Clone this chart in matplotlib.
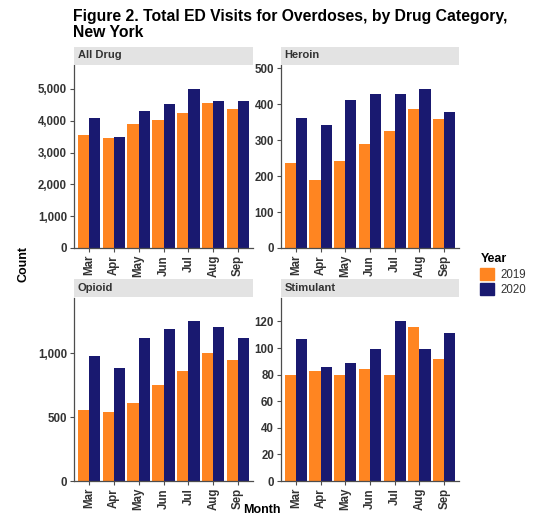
import matplotlib
matplotlib.use("Agg")
from matplotlib import pyplot as plt
from matplotlib.patches import Patch, Rectangle
from matplotlib.ticker import FuncFormatter
import numpy as np

plt.rcParams['font.family'] = ['Liberation Sans', 'DejaVu Sans']

months = ["Mar", "Apr", "May", "Jun", "Jul", "Aug", "Sep"]
years = ["2019", "2020"]

all_drug_2019 = [3560, 3470, 3910, 4030, 4250, 4560, 4370]
all_drug_2020 = [4070, 3480, 4320, 4540, 5000, 4620, 4630]
heroin_2019 = [236, 188, 243, 290, 327, 387, 358]
heroin_2020 = [361, 343, 413, 430, 428, 443, 378]
opioid_2019 = [558, 543, 610, 748, 860, 1000, 948]
opioid_2020 = [977, 886, 1117, 1184, 1247, 1200, 1117]
stimulant_2019 = [80, 83, 80, 84, 80, 116, 92]
stimulant_2020 = [107, 86, 89, 99, 120, 99, 111]

panels = [
    ("All Drug", all_drug_2019, all_drug_2020, [0, 1000, 2000, 3000, 4000, 5000]),
    ("Heroin", heroin_2019, heroin_2020, [0, 100, 200, 300, 400, 500]),
    ("Opioid", opioid_2019, opioid_2020, [0, 500, 1000]),
    ("Stimulant", stimulant_2019, stimulant_2020, [0, 20, 40, 60, 80, 100, 120]),
]

c2019 = "#FF8521"
c2020 = "#191970"
text_col = "#333333"
axis_col = "#4d4d4d"

W, H = 535, 518
fig = plt.figure(figsize=(W / 100, H / 100), dpi=100)


def px_rect(x0, y0, x1, y1):
    # pixel box (top-left origin) -> figure fraction rect
    return [x0 / W, 1 - y1 / H, (x1 - x0) / W, (y1 - y0) / H]


boxes = [
    (74, 65, 253, 248, 46.5),
    (281, 65, 459, 248, 46.5),
    (74, 297.5, 253, 481, 279),
    (281, 297.5, 459, 481, 279),
]

x = np.arange(len(months))
bw = 0.45

for (name, v19, v20, ticks), (x0, y0, x1, y1, sy) in zip(panels, boxes):
    ax = fig.add_axes(px_rect(x0, y0, x1, y1))
    ax.bar(x - bw / 2, v19, bw, color=c2019, linewidth=0)
    ax.bar(x + bw / 2, v20, bw, color=c2020, linewidth=0)
    top = max(max(v19), max(v20)) * 1.15
    ax.set_ylim(0, top)
    ax.set_xlim(-0.6, len(months) - 0.4)
    ax.set_yticks(ticks)
    ax.yaxis.set_major_formatter(FuncFormatter(lambda v, p: f"{int(v):,}"))
    ax.set_xticks(x)
    ax.set_xticklabels(months, rotation=90, ha="center", va="top")
    for lab in ax.get_xticklabels() + ax.get_yticklabels():
        lab.set_fontweight("bold")
        lab.set_fontsize(8.3)
        lab.set_color(text_col)
    ax.tick_params(length=3, width=0.8, color=axis_col, pad=2)
    for s in ["top", "right"]:
        ax.spines[s].set_visible(False)
    for s in ["left", "bottom"]:
        ax.spines[s].set_color(axis_col)
        ax.spines[s].set_linewidth(0.9)
    ax.set_facecolor("white")

    # facet strip
    strip = fig.add_axes(px_rect(x0, sy, x1, sy + 18))
    strip.set_xlim(0, 1)
    strip.set_ylim(0, 1)
    strip.axis("off")
    strip.add_patch(Rectangle((0, 0), 1, 1, color="#e3e3e3", transform=strip.transAxes))
    strip.text(0.02, 0.5, name, fontsize=8, fontweight="bold", color=text_col,
               va="center", ha="left", transform=strip.transAxes)

fig.text(73 / W, 1 - 9 / H,
         "Figure 2. Total ED Visits for Overdoses, by Drug Category,\nNew York",
         fontsize=11.3, fontweight="bold", ha="left", va="top", linespacing=1.12)

fig.text(24 / W, 1 - 264 / H, "Count", rotation=90, fontsize=9, fontweight="bold",
         ha="center", va="center")
fig.text(262 / W, 1 - 504 / H, "Month", fontsize=9, fontweight="bold",
         ha="center", va="top")

handles = [Patch(color=c2019), Patch(color=c2020)]
leg = fig.legend(handles, years, title="Year", loc="upper left",
                 bbox_to_anchor=(470 / W, 1 - 243 / H), frameon=False,
                 fontsize=8.3, title_fontproperties={"weight": "bold", "size": 9},
                 handlelength=1.2, handleheight=1.25, handletextpad=0.5,
                 labelspacing=0.2)
leg._legend_box.align = "left"
for t in leg.get_texts():
    t.set_color(text_col)

plt.savefig("out.png", dpi=100)
plt.close(fig)
